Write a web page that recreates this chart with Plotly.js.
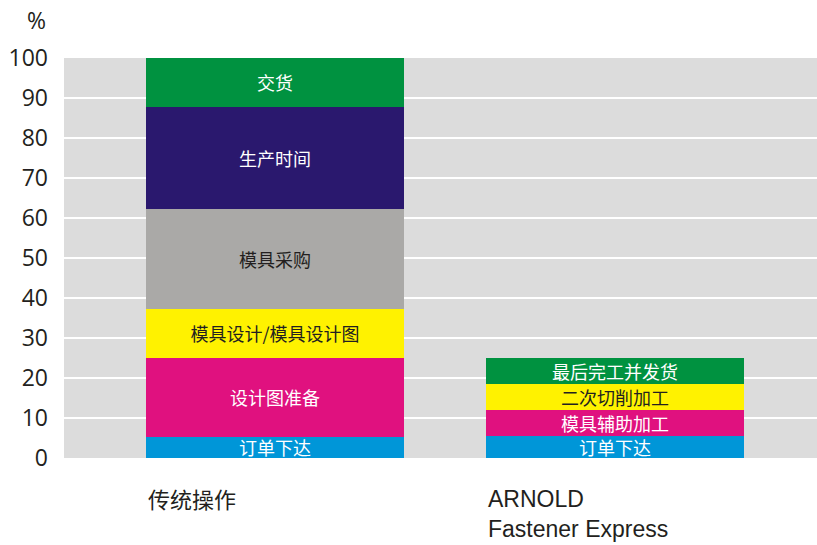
<!DOCTYPE html>
<html>
<head>
<meta charset="utf-8">
<script src="https://cdn.plot.ly/plotly-3.0.1.min.js"></script>
<style>html,body{margin:0;padding:0;background:#fff;}#chart{width:817px;height:545px;}</style>
</head>
<body>
<div id="chart"></div>
<script>
// Categories (x positions 0 and 1)
const categories = ['传统操作', 'ARNOLD<br>Fastener Express'];

// Stack segments, bottom to top, for each category
const tradLabels = ['订单下达', '设计图准备', '模具设计/模具设计图', '模具采购', '生产时间', '交货'];
const tradValues = [5.3, 19.7, 12.3, 25.0, 25.5, 12.2];
const tradColors = ['#0096d8', '#e0117f', '#fff200', '#aaa9a7', '#2a186e', '#009240'];
const tradText   = ['#ffffff', '#ffffff', '#231f20', '#231f20', '#ffffff', '#ffffff'];

const arnLabels = ['订单下达', '模具辅助加工', '二次切削加工', '最后完工并发货'];
const arnValues = [5.6, 6.4, 6.4, 6.6];
const arnColors = ['#0096d8', '#e0117f', '#fff200', '#009240'];
const arnText   = ['#ffffff', '#ffffff', '#231f20', '#ffffff'];

const yTicks = [0, 10, 20, 30, 40, 50, 60, 70, 80, 90, 100];

const BAR_W = 0.759;
const segFont = 'Noto Sans CJK SC, sans-serif';

function segTraces(catIndex, labels, values, colors, textColors) {
  return labels.map((lab, i) => ({
    type: 'bar',
    x: [catIndex],
    y: [values[i]],
    width: BAR_W,
    text: [lab],
    textposition: 'inside',
    insidetextanchor: 'middle',
    textangle: 0,
    constraintext: 'none',
    textfont: {family: segFont, size: 18, color: textColors[i]},
    marker: {color: colors[i], line: {width: 0}},
    hoverinfo: 'none',
    showlegend: false
  }));
}

const data = [].concat(
  segTraces(0, tradLabels, tradValues, tradColors, tradText),
  segTraces(1, arnLabels, arnValues, arnColors, arnText)
);

const annotations = categories.map((c, i) => ({
  x: i - BAR_W / 2,
  xref: 'x',
  y: 0,
  yref: 'paper',
  yshift: i === 0 ? -22 : -26,
  xanchor: 'left',
  yanchor: 'top',
  align: 'left',
  showarrow: false,
  text: c,
  font: {family: i === 0 ? 'Noto Sans CJK SC, sans-serif' : 'Liberation Sans, Arial, sans-serif', size: i === 0 ? 22 : 23, color: '#231f20'}
}));

// "%" unit label above the y axis
annotations.push({
  x: (48 - 64) / 753, xref: 'paper', xanchor: 'right',
  y: 1 + (58 - 20) / 400, yref: 'paper', yanchor: 'middle',
  showarrow: false,
  text: '%',
  font: {family: 'Open Sans, sans-serif', size: 23, color: '#231f20'}
});

const layout = {
  width: 817,
  height: 545,
  margin: {l: 64, r: 0, t: 58, b: 87, pad: 0},
  paper_bgcolor: '#ffffff',
  plot_bgcolor: '#dcdcdc',
  barmode: 'stack',
  bargap: 0,
  showlegend: false,
  xaxis: {
    range: [-0.6206, 1.594],
    showticklabels: false,
    showgrid: false,
    zeroline: false,
    ticks: '',
    fixedrange: true
  },
  yaxis: {
    range: [0, 100],
    tickvals: yTicks,
    ticktext: yTicks.map(String),
    showgrid: true,
    gridcolor: '#ffffff',
    gridwidth: 2,
    zeroline: false,
    ticks: '',
    ticklabelstandoff: 15,
    tickfont: {family: 'Open Sans, sans-serif', size: 23, color: '#231f20'},
    fixedrange: true
  },
  annotations: annotations
};

Plotly.newPlot('chart', data, layout, {displayModeBar: false, staticPlot: true});
</script>
</body>
</html>
